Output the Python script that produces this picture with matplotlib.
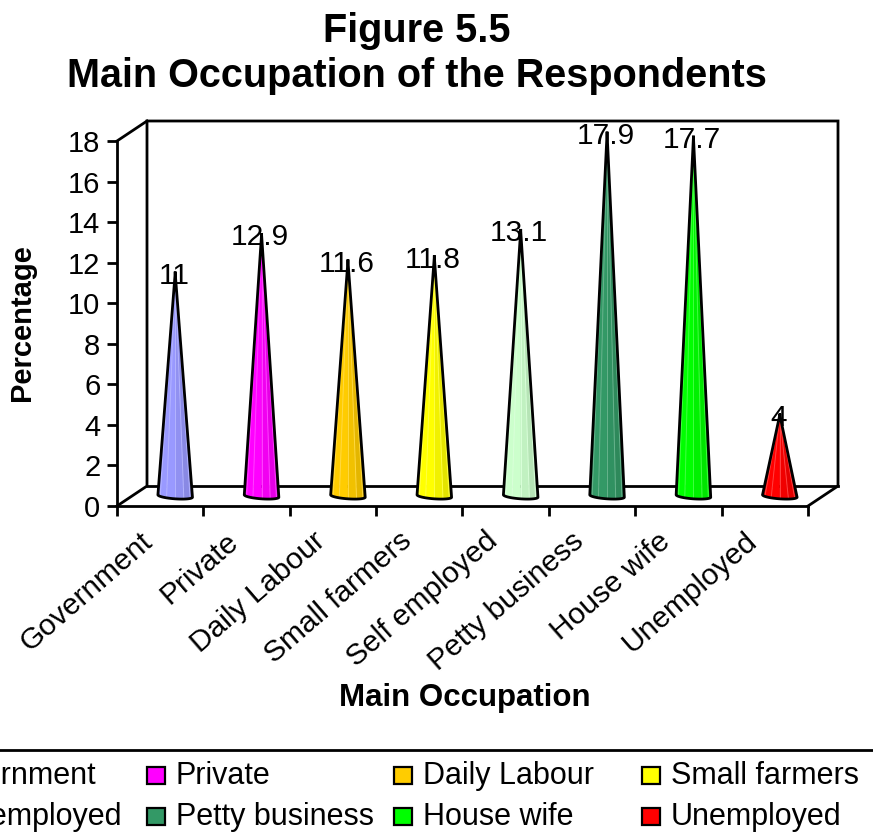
import numpy as np
import matplotlib
matplotlib.use('Agg')
import matplotlib.pyplot as plt
from matplotlib.patches import Rectangle, Polygon
from matplotlib.colors import to_rgb

categories = ['Government', 'Private', 'Daily Labour', 'Small farmers',
              'Self employed', 'Petty business', 'House wife', 'Unemployed']
values = [11, 12.9, 11.6, 11.8, 13.1, 17.9, 17.7, 4]
value_labels = ['11', '12.9', '11.6', '11.8', '13.1', '17.9', '17.7', '4']
colors = ['#9999ff', '#ff00ff', '#ffcc00', '#ffff00',
          '#ccffcc', '#339966', '#00ff00', '#ff0000']
yticks = [0, 2, 4, 6, 8, 10, 12, 14, 16, 18]

W, H = 873, 832
plt.rcParams['font.family'] = ['Liberation Sans', 'DejaVu Sans']

fig = plt.figure(figsize=(W / 100, H / 100), dpi=100)
# axes rectangle is the front plane of the fake 3d box
ax = fig.add_axes([117 / W, 1 - 506 / H, 691 / W, 365 / H])
ax.set_xlim(0, 8)
ax.set_ylim(0, 18)
ax.patch.set_alpha(0)

dx = 30 / (691 / 8)
dy = 20 / (365 / 18)

for s in ['top', 'right']:
    ax.spines[s].set_visible(False)
for s in ['left', 'bottom']:
    ax.spines[s].set_linewidth(2)

ax.set_xticks(range(9))
ax.set_xticklabels([])
ax.set_yticks(yticks)
ax.tick_params(axis='both', width=2, length=7, labelsize=21, pad=5)

# back wall and floor edges
box_x = [0, dx, dx, 8 + dx, 8 + dx, 8]
box_y = [0, dy, 18 + dy, 18 + dy, dy, 0]
ax.plot(box_x, box_y, color='k', lw=2, clip_on=False, solid_joinstyle='miter')
ax.plot([dx, 8 + dx], [dy, dy], color='k', lw=2, clip_on=False)
ax.plot([0, dx], [18, 18 + dy], color='k', lw=2, clip_on=False)

# cones
rx = 0.2
ry = 0.14
tilt = 0.05
n_facets = 6
for i in range(len(categories)):
    cx = i + 0.5 + dx / 2
    cy = dy / 2
    top = cy + values[i]
    base = np.array(to_rgb(colors[i]))
    ang = np.linspace(np.pi, 2 * np.pi, n_facets + 1)
    for k in range(n_facets):
        fine = np.linspace(ang[k], ang[k + 1], 6)
        xs = cx + rx * np.cos(fine)
        ys = cy + ry * np.sin(fine) - tilt * np.cos(fine) * 1.2
        shade = 1.0 - 0.16 * max(0, (k - 2)) / 3
        pts = [(cx, top)] + list(zip(xs, ys))
        ax.add_patch(Polygon(pts, closed=True, facecolor=base * shade,
                             edgecolor=base * shade, lw=0.3, clip_on=False, zorder=3))
        # pale streak between facets
        if k > 0:
            xe = cx + rx * np.cos(ang[k])
            ye = cy + ry * np.sin(ang[k]) - tilt * np.cos(ang[k]) * 1.2
            pale = base * 0.75 + 0.25
            ax.plot([cx, xe], [top, ye], color=pale, lw=0.7, zorder=3.5, clip_on=False)
    fine = np.linspace(np.pi, 2 * np.pi, 30)
    out_x = np.concatenate([[cx], cx + rx * np.cos(fine), [cx]])
    out_y = np.concatenate([[top], cy + ry * np.sin(fine) - tilt * np.cos(fine) * 1.2, [top]])
    ax.plot(out_x, out_y, color='k', lw=2, zorder=4, clip_on=False, solid_joinstyle='miter')
    ax.annotate(value_labels[i], xy=(cx, top), xytext=(-1, -2), textcoords='offset points',
                ha='center', va='center', fontsize=21.5, zorder=5, annotation_clip=False)

# rotated category labels
for i, c in enumerate(categories):
    ax.annotate(c, xy=(i + 0.5, 0), xycoords='data', xytext=(-15, -15),
                textcoords='offset points', rotation=41, ha='right', va='top',
                rotation_mode='anchor', fontsize=21.5, annotation_clip=False)

fig.text(417 / W, 1 - 31 / H, 'Figure 5.5', ha='center', va='center',
         fontsize=28.5, fontweight='bold')
fig.text(417 / W, 1 - 76 / H, 'Main Occupation of the Respondents', ha='center',
         va='center', fontsize=28.5, fontweight='bold')
fig.text(22 / W, 1 - 323 / H, 'Percentage', rotation=90, ha='center', va='center',
         fontsize=21, fontweight='bold')
fig.text(465 / W, 1 - 698 / H, 'Main Occupation', ha='center', va='center',
         fontsize=22.5, fontweight='bold')

# legend box runs off the left edge of the picture
fig.add_artist(plt.Line2D([0, 1], [1 - 750 / H, 1 - 750 / H], color='k', lw=2))
leg_cols = [-100, 147, 394, 642]
leg_rows = [776, 817]
for i, c in enumerate(categories):
    lx = leg_cols[i % 4]
    ly = leg_rows[i // 4]
    fig.add_artist(Rectangle((lx / W, 1 - (ly + 8) / H), 18 / W, 17 / H, facecolor=colors[i],
                             edgecolor='k', lw=1.6, transform=fig.transFigure))
    fig.text((lx + 29) / W, 1 - ly / H, c, ha='left', va='center', fontsize=22)

fig.savefig('out.png', dpi=100)
